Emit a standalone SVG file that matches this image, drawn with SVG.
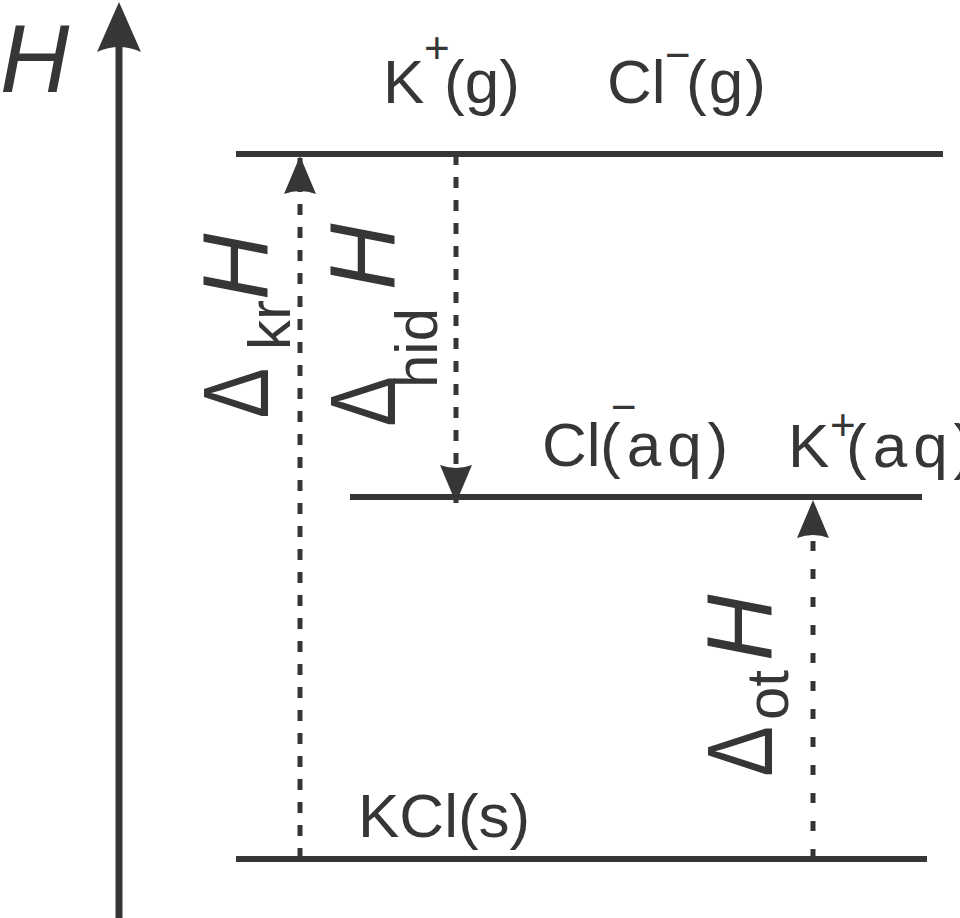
<svg xmlns="http://www.w3.org/2000/svg" width="960" height="918" viewBox="0 0 960 918">
<style>
text{font-family:"Liberation Sans",Arial,sans-serif;fill:#363636}
.lbl{font-size:62px}
.sup{font-size:44px}
.big{font-size:92px}
.sub{font-size:60px}
.it{font-style:italic}
.aq{letter-spacing:6px}
.level{stroke:#363636;stroke-width:6;fill:none}
.dash{stroke:#363636;stroke-width:5;fill:none}
.head{fill:#363636}
</style>
<defs>
<marker id="ah" markerUnits="userSpaceOnUse" markerWidth="50" markerHeight="40" refX="0" refY="0" viewBox="-40 -20 50 40" orient="auto" overflow="visible">
<path class="head" d="M0,0 L-38,-16 Q-32,0 -38,16 Z"/>
</marker>
</defs>
<g id="axis">
<line x1="119" y1="918" x2="119" y2="46" stroke="#363636" stroke-width="7"/>
<path class="head" d="M119,2 L141,52 Q119,42 97,52 Z"/>
<text class="it" x="0" y="92" font-size="96">H</text>
</g>
<g id="level-gas">
<line class="level" x1="236" y1="154" x2="943" y2="154"/>
<text class="lbl" y="103"><tspan x="383">K</tspan><tspan class="sup" x="424" y="63">+</tspan><tspan x="444" y="103">(g)</tspan></text>
<text class="lbl" y="103"><tspan x="607">Cl</tspan><tspan class="sup" x="665" y="70">−</tspan><tspan x="686" y="103" letter-spacing="2">(g)</tspan></text>
</g>
<g id="level-aq">
<line class="level" x1="350" y1="497" x2="922" y2="497"/>
<text class="lbl" y="466"><tspan x="542">Cl</tspan><tspan class="sup" x="611" y="422">−</tspan><tspan class="aq" x="600" y="466">(aq)</tspan></text>
<text class="lbl" y="467"><tspan x="788">K</tspan><tspan class="sup" x="830" y="440">+</tspan><tspan class="aq" x="846" y="467">(aq)</tspan></text>
</g>
<g id="level-solid">
<line class="level" x1="236" y1="859" x2="927" y2="859"/>
<text class="lbl" x="358" y="837">KCl(s)</text>
</g>
<g id="connectors">
<line class="dash" x1="300" y1="859" x2="300" y2="156" stroke-dasharray="11 12" marker-end="url(#ah)"/>
<line class="dash" x1="456" y1="154" x2="456" y2="503" stroke-dasharray="11 12" marker-end="url(#ah)"/>
<line class="dash" x1="813" y1="859" x2="813" y2="500" stroke-dasharray="10 18" marker-end="url(#ah)"/>
</g>
<g id="label-kr">
<text class="big" transform="rotate(-90) scale(0.82,1)" x="-510" y="268">Δ</text>
<text transform="rotate(-90)"><tspan class="sub" x="-350" y="290">kr</tspan><tspan class="big it" x="-300" y="268">H</tspan></text>
</g>
<g id="label-hid">
<text class="big" transform="rotate(-90) scale(0.82,1)" x="-520" y="395">Δ</text>
<text transform="rotate(-90)"><tspan class="sub" x="-388" y="437">hid</tspan><tspan class="big it" x="-290" y="395">H</tspan></text>
</g>
<g id="label-ot">
<text class="big" transform="rotate(-90) scale(0.82,1)" x="-947" y="772">Δ</text>
<text transform="rotate(-90)"><tspan class="sub" x="-720" y="788">ot</tspan><tspan class="big it" x="-661" y="772">H</tspan></text>
</g>
</svg>
